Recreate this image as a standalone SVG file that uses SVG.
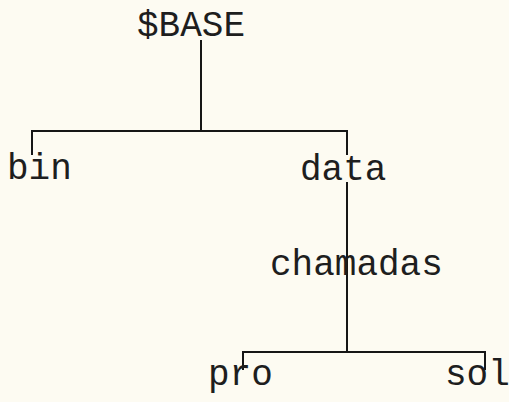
<svg xmlns="http://www.w3.org/2000/svg" width="509" height="402" viewBox="0 0 509 402">
  <style>
    .lbl { font-family: "Liberation Mono", "Courier New", monospace; font-size: 36px; fill: #1e1e1e; }
    .edge { stroke: #161616; stroke-width: 2; fill: none; }
  </style>
  <rect width="509" height="402" fill="#fdfbf2"/>
  <g id="connectors">
    <!-- $BASE to bin / data -->
    <path class="edge" d="M201 40 V131"/>
    <path class="edge" d="M32 155 V131 H347 V155"/>
    <!-- data to chamadas and on to pro / sol -->
    <path class="edge" d="M347 182 V352"/>
    <path class="edge" d="M243 370 V352 H485 V370"/>
  </g>
  <g id="node-base"><text class="lbl" x="137" y="36">$BASE</text></g>
  <g id="node-bin"><text class="lbl" x="7" y="179">bin</text></g>
  <g id="node-data"><text class="lbl" x="300" y="180">data</text></g>
  <g id="node-chamadas"><text class="lbl" x="270" y="275">chamadas</text></g>
  <g id="node-pro"><text class="lbl" x="208" y="385">pro</text></g>
  <g id="node-sol"><text class="lbl" x="445" y="385">sol</text></g>
</svg>
